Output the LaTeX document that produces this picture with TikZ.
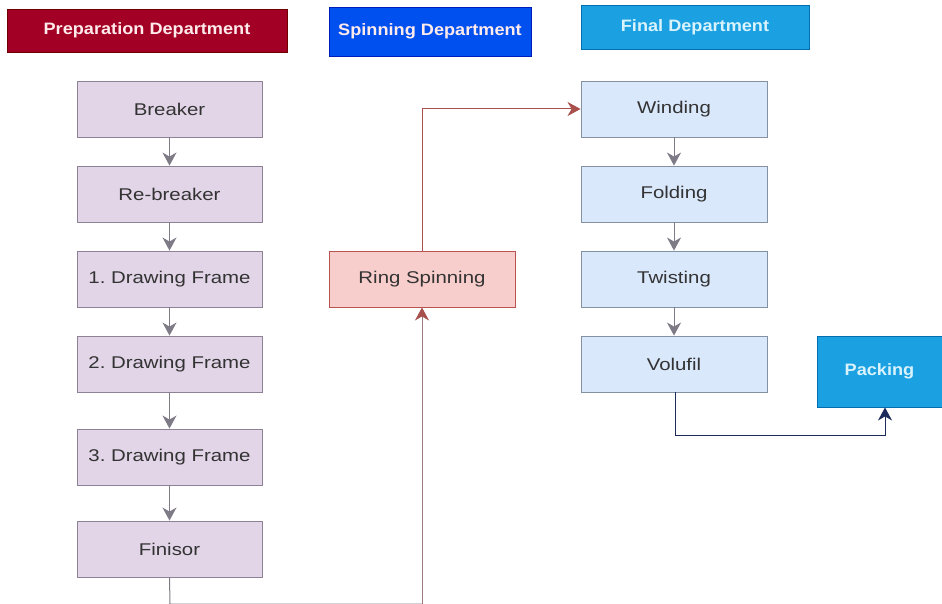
\documentclass[tikz,border=0pt]{standalone}
\usepackage{fontspec}
\setmainfont{Liberation Sans}[FakeStretch=1.1]
\newfontfamily\bodyfont{Liberation Sans}[FakeStretch=1.2]
\usetikzlibrary{arrows.meta}
\frenchspacing
\definecolor{prepfill}{HTML}{A20025}
\definecolor{prepline}{HTML}{6F0000}
\definecolor{spinfill}{HTML}{0050EF}
\definecolor{spinline}{HTML}{001DBC}
\definecolor{finfill}{HTML}{1BA1E2}
\definecolor{finline}{HTML}{006EAF}
\definecolor{purfill}{HTML}{E1D5E7}
\definecolor{purline}{HTML}{8E8296}
\definecolor{bluefill}{HTML}{DAE8FC}
\definecolor{blueline}{HTML}{8491A3}
\definecolor{ringfill}{HTML}{F8CECC}
\definecolor{ringline}{HTML}{B85450}
\definecolor{boxtext}{HTML}{333333}
\definecolor{grayarrow}{HTML}{7E7A86}
\definecolor{redarrow}{HTML}{A8504C}
\definecolor{mutedarrow}{HTML}{9A7C7C}
\definecolor{navyarrow}{HTML}{1A2A5A}
\tikzset{
  pbox/.style={draw=#1, line width=0.9pt, inner sep=0pt, font=\bodyfont\fontsize{17}{19}\selectfont},
  header/.style={pbox=#1, text=white!92!red, font=\fontsize{16.5}{18}\selectfont\bfseries},
  prepbox/.style={pbox=purline, fill=purfill, text=boxtext, minimum width=185pt, minimum height=56pt},
  finbox/.style={pbox=blueline, fill=bluefill, text=boxtext, minimum width=186pt, minimum height=56pt},
  flow/.style={line width=1pt, -{Stealth[length=13pt,width=14pt,inset=4pt]}},
}
\begin{document}
\begin{tikzpicture}[x=1pt,y=-1pt]
\useasboundingbox (0,0) rectangle (942,604);
% department headers
\node[header=prepline, fill=prepfill, minimum width=280pt, minimum height=43pt] (hprep) at (147,30.5) {Preparation Department};
\node[header=spinline, fill=spinfill, minimum width=202pt, minimum height=49pt] (hspin) at (430,31.5) {Spinning Department};
\node[header=finline, fill=finfill, text=white!85!cyan, minimum width=228pt, minimum height=44pt] (hfin) at (695,27) {Final Department};
% preparation column
\node[prepbox] (breaker) at (169.5,109) {Breaker};
\node[prepbox] (rebreaker) at (169.5,194) {Re-breaker};
\node[prepbox] (draw1) at (169.5,279) {1. Drawing Frame};
\node[prepbox] (draw2) at (169.5,364) {2. Drawing Frame};
\node[prepbox] (draw3) at (169.5,457) {3. Drawing Frame};
\node[prepbox] (finisor) at (169.5,549) {Finisor};
% spinning
\node[pbox=ringline, fill=ringfill, text=boxtext, minimum width=186pt, minimum height=56pt] (ring) at (422,279) {Ring Spinning};
% final column
\node[finbox] (winding) at (674,109) {Winding};
\node[finbox] (folding) at (674,194) {Folding};
\node[finbox] (twisting) at (674,279) {Twisting};
\node[finbox] (volufil) at (674,364) {Volufil};
\node[pbox=finline, fill=finfill, text=white!85!cyan, font=\fontsize{16.5}{18}\selectfont\bfseries, minimum width=125pt, minimum height=71pt] (packing) at (879.5,371.5) {Packing};
% connectors
\coordinate (c1) at (170,604);
\coordinate (c2) at (422,604);
\coordinate (c3) at (422,109);
\coordinate (c4) at (675,435);
\coordinate (c5) at (885,435);
\begin{scope}[draw=grayarrow]
\draw[flow] (breaker) -- (rebreaker);
\draw[flow] (rebreaker) -- (draw1);
\draw[flow] (draw1) -- (draw2);
\draw[flow] (draw2) -- (draw3);
\draw[flow] (draw3) -- (finisor);
\draw[flow] (winding) -- (folding);
\draw[flow] (folding) -- (twisting);
\draw[flow] (twisting) -- (volufil);
\end{scope}
\draw[line width=1pt, draw=grayarrow] (finisor.south) -- (c1) -- (c2);
\draw[line width=1pt, draw=mutedarrow, -{Stealth[length=13pt,width=14pt,inset=4pt,color=redarrow]}] (c2) -- (ring.south);
\draw[flow, draw=redarrow] (ring.north) -- (c3) -- (winding.west);
\draw[flow, draw=navyarrow] (volufil.south -| c4) -- (c4) -- (c5) -- (c5 |- packing.south);
\end{tikzpicture}
\end{document}
